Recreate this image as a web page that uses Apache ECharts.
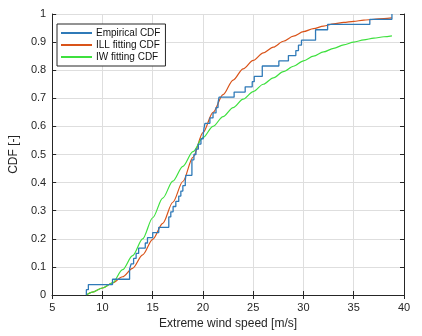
<!DOCTYPE html>
<html>
<head>
<meta charset="utf-8">
<script src="https://cdn.jsdelivr.net/npm/echarts@6/dist/echarts.min.js"></script>
<style>
  html, body { margin: 0; padding: 0; background: #fff; }
  #cdfChart { width: 422px; height: 336px; }
</style>
</head>
<body>
<div id="cdfChart"></div>
<script>
  // empirical CDF: jump positions and level after each jump
  let ecdfX = [8.4, 8.4, 8.6, 11.0, 12.7, 12.86, 13.1, 13.35, 13.6, 14.26, 14.48, 15.0, 15.6, 16.6,
    16.8, 17.03, 17.3, 17.59, 17.8, 18.0, 18.24, 18.3, 18.9, 19.1, 19.3, 19.54, 19.8, 20.03, 20.1,
    20.2, 20.69, 21.0, 21.3, 21.5, 21.6, 23.1, 24.2, 24.9, 25.1, 25.9, 27.55, 28.5, 29.24, 29.5,
    29.8, 31.2, 32.4, 36.6, 38.8];
  let ecdfY = [0, 0.019, 0.037, 0.056, 0.093, 0.111, 0.130, 0.148, 0.167, 0.185, 0.204, 0.222, 0.241, 0.278,
    0.296, 0.315, 0.333, 0.352, 0.370, 0.389, 0.407, 0.426, 0.481, 0.500, 0.519, 0.537, 0.556, 0.574, 0.593,
    0.611, 0.630, 0.648, 0.667, 0.685, 0.704, 0.722, 0.741, 0.759, 0.778, 0.815, 0.833, 0.852, 0.870, 0.889,
    0.907, 0.944, 0.963, 0.981, 1.000];

  let fitX = [8.4, 9, 10, 11, 12, 13, 14, 15, 16, 17, 18, 19, 20, 21, 22, 23, 24, 25, 26, 27, 28, 29, 30,
    31, 32, 33, 34, 35, 36, 37, 38, 38.8];
  let illY = [0, 0.01, 0.025, 0.043, 0.065, 0.095, 0.143, 0.198, 0.255, 0.33, 0.404, 0.49, 0.578, 0.65,
    0.713, 0.765, 0.805, 0.835, 0.862, 0.882, 0.903, 0.921, 0.937, 0.948, 0.957, 0.965, 0.97, 0.974,
    0.978, 0.981, 0.984, 0.986];
  let iwY = [0, 0.01, 0.025, 0.043, 0.09, 0.14, 0.2, 0.275, 0.345, 0.405, 0.458, 0.51, 0.56, 0.6, 0.635,
    0.667, 0.697, 0.724, 0.75, 0.773, 0.795, 0.814, 0.833, 0.85, 0.865, 0.878, 0.89, 0.9, 0.908, 0.914,
    0.919, 0.922];

  let seriesNames = ['Empirical CDF', 'ILL fitting CDF', 'IW fitting CDF'];
  let xTicks = [5, 40, 5];
  let yTicks = [0, 1, 0.1];

  let zip = (xs, ys) => xs.map((x, i) => [x, ys[i]]);

  let myChart = echarts.init(document.getElementById('cdfChart'));

  let font = 'Liberation Sans, Arial, sans-serif';
  let axisLine = { show: true, lineStyle: { color: '#262626', width: 1 } };
  let axisTick = { show: true, inside: true, length: 4, lineStyle: { color: '#262626' } };
  let splitLine = { show: true, lineStyle: { color: '#dedede', width: 1 } };
  let labelFont = { color: '#262626', fontSize: 11, fontFamily: font };

  myChart.setOption({
    animation: false,
    backgroundColor: '#fff',
    grid: { left: 46, right: 18, top: 14, bottom: 41, containLabel: false },
    color: ['#2f7ab8', '#d95319', '#3ee03e'],
    legend: {
      show: true,
      orient: 'vertical',
      left: 57,
      top: 24,
      itemWidth: 31,
      itemHeight: 2,
      itemGap: 2,
      icon: 'rect',
      padding: [4, 5, 4, 4],
      borderColor: '#262626',
      borderWidth: 1,
      backgroundColor: '#fff',
      textStyle: { color: '#111', fontSize: 10, fontFamily: font, padding: [0, 0, 0, -1] },
      data: seriesNames
    },
    xAxis: [{
      type: 'value',
      min: xTicks[0], max: xTicks[1], interval: xTicks[2],
      name: 'Extreme wind speed [m/s]',
      nameLocation: 'middle',
      nameGap: 22,
      nameTextStyle: { color: '#262626', fontSize: 12, fontFamily: font },
      axisLine: axisLine, axisTick: axisTick, splitLine: splitLine,
      axisLabel: Object.assign({ margin: 7 }, labelFont)
    }, {
      type: 'value', position: 'top',
      min: xTicks[0], max: xTicks[1], interval: xTicks[2],
      axisLine: axisLine, axisTick: axisTick, splitLine: { show: false },
      axisLabel: { show: false }
    }],
    yAxis: [{
      type: 'value',
      min: yTicks[0], max: yTicks[1], interval: yTicks[2],
      name: 'CDF [-]',
      nameLocation: 'middle',
      nameGap: 22,
      nameTextStyle: { color: '#262626', fontSize: 12, fontFamily: font },
      axisLine: axisLine, axisTick: axisTick, splitLine: splitLine,
      axisLabel: Object.assign({ margin: 6, formatter: v => String(+v.toFixed(1)) }, labelFont)
    }, {
      type: 'value', position: 'right',
      min: yTicks[0], max: yTicks[1], interval: yTicks[2],
      axisLine: axisLine, axisTick: axisTick, splitLine: { show: false },
      axisLabel: { show: false }
    }],
    series: [{
      name: seriesNames[0],
      type: 'line',
      step: 'end',
      showSymbol: false,
      lineStyle: { width: 1.3 },
      data: zip(ecdfX, ecdfY),
      z: 3
    }, {
      name: seriesNames[1],
      type: 'line',
      smooth: 0.3,
      smoothMonotone: 'x',
      showSymbol: false,
      lineStyle: { width: 1.2 },
      data: zip(fitX, illY),
      z: 2
    }, {
      name: seriesNames[2],
      type: 'line',
      smooth: 0.3,
      smoothMonotone: 'x',
      showSymbol: false,
      lineStyle: { width: 1.2 },
      data: zip(fitX, iwY),
      z: 2
    }]
  });

  window.addEventListener('resize', () => {
    myChart.resize();
  });
</script>
</body>
</html>
